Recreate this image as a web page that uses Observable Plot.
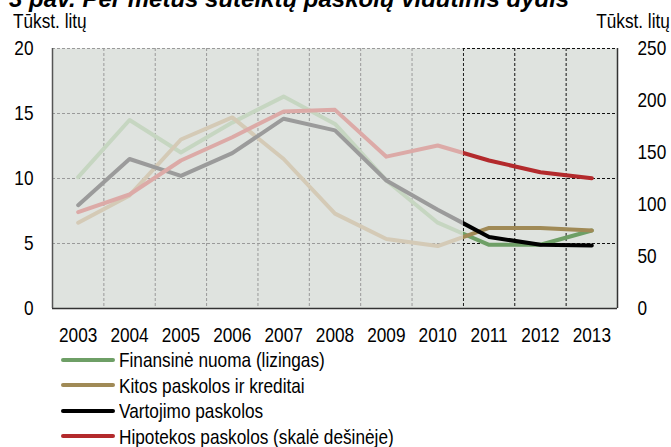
<!DOCTYPE html>
<html>
<head>
<meta charset="utf-8">
<script src="https://cdn.jsdelivr.net/npm/d3@7"></script>
<script src="https://cdn.jsdelivr.net/npm/@observablehq/plot@0.6"></script>
<style>
  html, body { margin: 0; padding: 0; background: #fff; }
  #wrap { position: relative; width: 671px; height: 447px; overflow: hidden; font-family: "Liberation Sans", Arial, sans-serif; color: #000; }
  .abs { position: absolute; white-space: nowrap; }
  .layer { position: absolute; left: 0; top: 0; width: 671px; height: 350px; }
  #title { left: 9px; top: -13px; font-weight: bold; font-style: italic; font-size: 24px; line-height: 24px; }
  .unit { top: 10px; font-size: 21px; line-height: 21px; }
  .narrow { display: inline-block; transform: scaleX(0.82); }
  #unitL .narrow { transform-origin: left center; }
  #unitR .narrow { transform-origin: right center; }
  .row { position: absolute; left: 0; height: 25.5px; display: flex; align-items: center; font-size: 21px; line-height: 25.5px; white-space: nowrap; }
  .row .narrow { transform-origin: left center; }
  .sw { width: 54px; height: 4px; margin-left: 61px; margin-right: 4px; border-radius: 2px; }
</style>
</head>
<body>
<div id="wrap">
  <div id="base" class="layer"></div>
  <div id="left" class="layer"></div>
  <div id="right" class="layer"></div>
  <div id="top" class="layer"></div>
  <div id="title" class="abs">3 pav. Per metus suteiktų paskolų vidutinis dydis</div>
  <div class="abs unit" id="unitL" style="left:13px"><span class="narrow">Tūkst. litų</span></div>
  <div class="abs unit" id="unitR" style="right:1px"><span class="narrow">Tūkst. litų</span></div>
  <div id="legend"></div>
</div>
<script>
// ---- data ----
const years = [2003, 2004, 2005, 2006, 2007, 2008, 2009, 2010, 2011, 2012, 2013];
const leasing    = [10.1, 14.5, 12.0, 14.3, 16.3, 14.2, 9.85, 6.6, 4.9, 4.9, 6.0];      // Finansinė nuoma (left scale)
const otherLoans = [6.6, 8.7, 13.0, 14.7, 11.5, 7.3, 5.35, 4.8, 6.2, 6.2, 6.0];        // Kitos paskolos ir kreditai (left)
const consumer   = [7.95, 11.5, 10.2, 11.95, 14.6, 13.7, 9.85, 7.6, 5.5, 4.9, 4.85];   // Vartojimo paskolos (left)
const mortgage   = [92.6, 109.6, 142.3, 164.7, 189.4, 191, 146, 156.7, 142.3, 131, 125.3]; // Hipotekos paskolos (right scale)
const leftTicks  = [0, 5, 10, 15, 20];
const rightTicks = [0, 50, 100, 150, 200, 250];
const splitYear = 2010.5; // highlighted period starts after 2010

const seriesNames = ["Finansinė nuoma (lizingas)", "Kitos paskolos ir kreditai", "Vartojimo paskolos", "Hipotekos paskolos (skalė dešinėje)"];
const strongColors = ["#6e9f66", "#a08a56", "#000000", "#b32a2c"];
const fadedColors  = ["#c6d6c1", "#d4cab6", "#9b9b9b", "#dcaaa7"];

const leftMax = leftTicks[leftTicks.length - 1];
const rightMax = rightTicks[rightTicks.length - 1];
const ratio = rightMax / leftMax;

const seriesValues = [leasing, otherLoans, consumer, mortgage];
const onRight = [false, false, false, true];
const rows = seriesValues.map((vals, i) =>
  years.map((yr, j) => ({ year: yr, v: onRight[i] ? vals[j] / ratio : vals[j] })));

const bounds = years.slice(0, -1).map(y => y + 0.5);
const gridY = leftTicks.filter(t => t > 0);

const W = 671, H = 350;
function make(marks, withAxes) {
  const x = { type: "linear", domain: [years[0] - 0.5, years[years.length - 1] + 0.5] };
  const y = { domain: [0, leftMax] };
  if (!withAxes) { x.axis = null; y.axis = null; }
  return Plot.plot({
    width: W,
    height: H,
    marginTop: 48,
    marginBottom: 42,
    marginLeft: 52,
    marginRight: 54,
    x, y,
    style: { fontFamily: "'Liberation Sans', Arial, sans-serif", fontSize: "21px", color: "#000", background: "transparent", overflow: "visible" },
    marks
  });
}

const base = make([
  Plot.frame({ fill: "#dfe3df", stroke: "none" }),
  Plot.axisX({ ticks: years, tickFormat: d => String(d), tickSize: 0, tickPadding: 19, label: null }),
  Plot.axisY({ ticks: leftTicks, tickSize: 0, tickPadding: 19, label: null }),
  Plot.axisY({ anchor: "right", ticks: rightTicks.map(t => t / ratio), tickFormat: d => String(Math.round(d * ratio)), tickSize: 0, tickPadding: 20, label: null })
], true);
const leftLayer = make([
  Plot.ruleY(gridY, { stroke: "#9a9a9a", strokeDasharray: "3,2", strokeWidth: 1 }),
  Plot.ruleX(bounds, { stroke: "#9a9a9a", strokeDasharray: "3,2", strokeWidth: 1 }),
  ...rows.map((r, i) => Plot.line(r, { x: "year", y: "v", stroke: fadedColors[i], strokeWidth: 4, strokeLinejoin: "round" }))
], false);
const rightLayer = make([
  Plot.ruleY(gridY, { stroke: "#111", strokeDasharray: "3,2", strokeWidth: 1 }),
  Plot.ruleX(bounds, { stroke: "#111", strokeDasharray: "3,2", strokeWidth: 1 }),
  ...rows.map((r, i) => Plot.line(r, { x: "year", y: "v", stroke: strongColors[i], strokeWidth: 4, strokeLinejoin: "round" }))
], false);
const topLayer = make([
  Plot.ruleY([0], { stroke: "#333", strokeWidth: 1.5 }),
  Plot.ruleX([years[0] - 0.5], { stroke: "#555", strokeWidth: 1.5 }),
  Plot.ruleX([years[years.length - 1] + 0.5], { stroke: "#333", strokeWidth: 1.5 })
], false);

// compress axis text horizontally (Arial Narrow look)
base.querySelectorAll("text").forEach(t => {
  const x = parseFloat(t.getAttribute("x") || 0);
  const tr = t.getAttribute("transform") || "";
  t.setAttribute("transform", `${tr} translate(${x},0) scale(0.82,1) translate(${-x},0)`);
  t.setAttribute("fill", "#000");
});

document.getElementById("base").appendChild(base);
document.getElementById("left").appendChild(leftLayer);
document.getElementById("right").appendChild(rightLayer);
document.getElementById("top").appendChild(topLayer);

// clip the layers at the split year using the plot's own x scale
const xs = base.scale("x").apply(splitYear);
document.getElementById("left").style.clipPath = `inset(0px ${W - xs}px 0px 0px)`;
document.getElementById("right").style.clipPath = `inset(0px 0px 0px ${xs}px)`;

// legend
const legend = document.getElementById("legend");
seriesNames.forEach((name, i) => {
  const row = document.createElement("div");
  row.className = "row";
  row.style.top = (347 + i * 25.5) + "px";
  const sw = document.createElement("span");
  sw.className = "sw";
  sw.style.background = strongColors[i];
  const tx = document.createElement("span");
  tx.className = "narrow";
  tx.textContent = name;
  row.appendChild(sw); row.appendChild(tx);
  legend.appendChild(row);
});
</script>
</body>
</html>
